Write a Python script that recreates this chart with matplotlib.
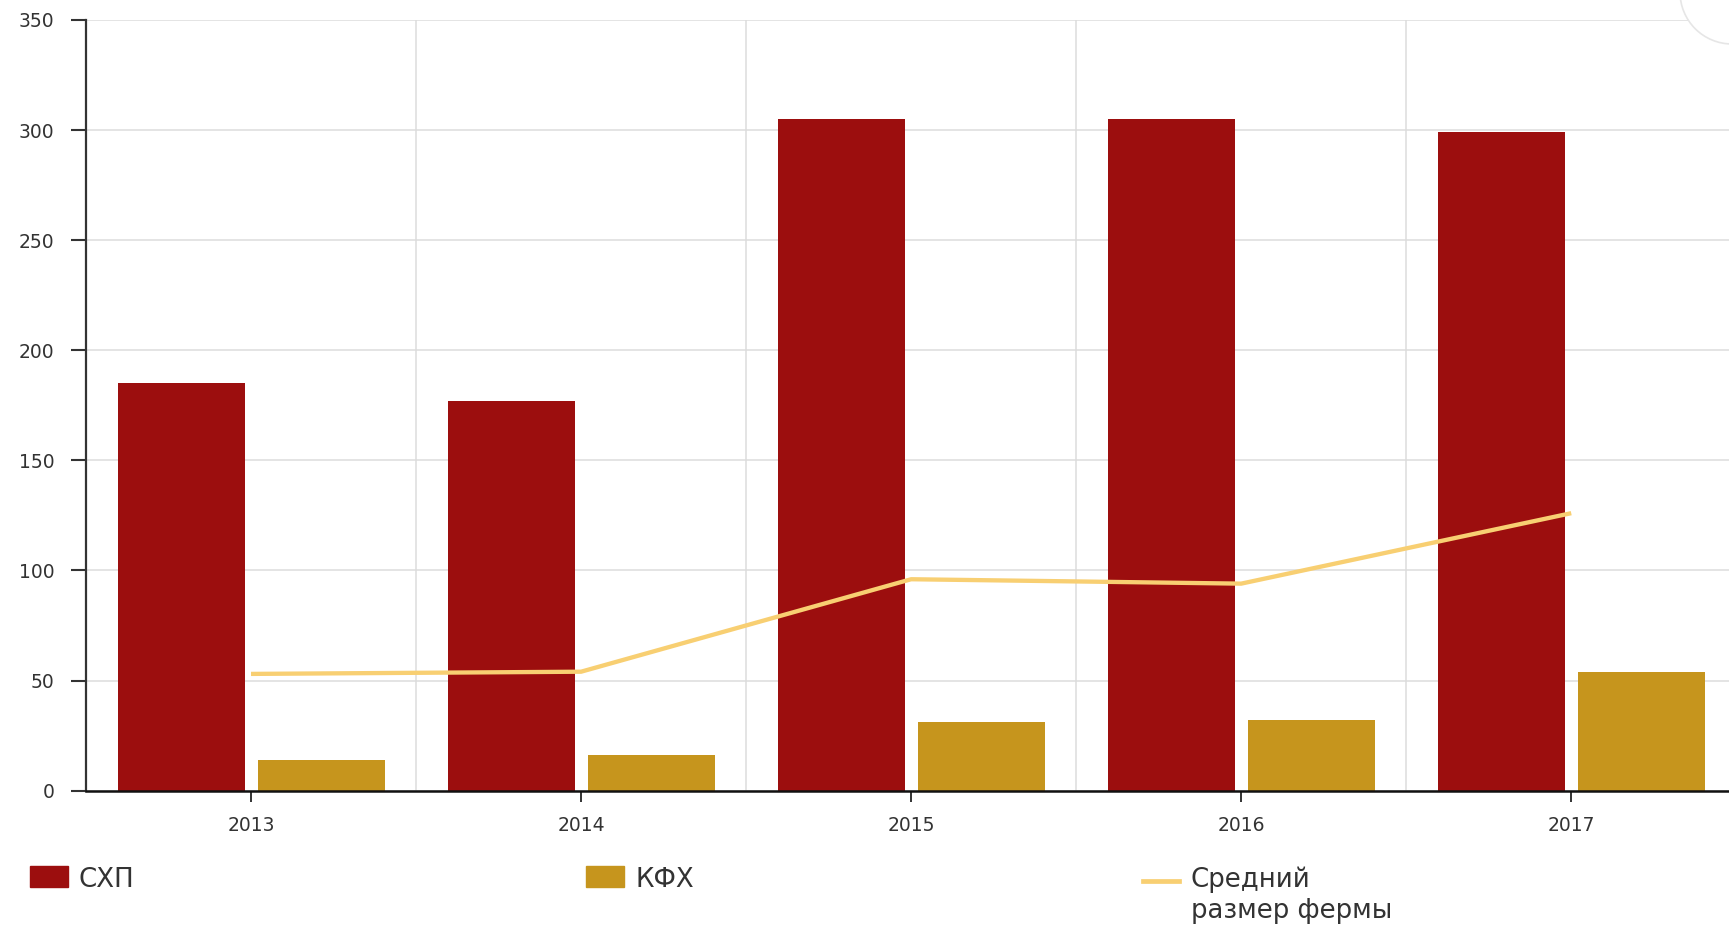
import matplotlib
matplotlib.use("Agg")
import matplotlib.pyplot as plt
import numpy as np
from matplotlib.lines import Line2D
from matplotlib.patches import Circle, Rectangle
from matplotlib.transforms import IdentityTransform

# values
years = ["2013", "2014", "2015", "2016", "2017"]
shp = [185, 177, 305, 305, 299]   # СХП
kfh = [14, 16, 31, 32, 54]        # КФХ
avg_farm = [53, 54, 96, 94, 126]  # Средний размер фермы

RED = "#9C0E0E"
GOLD = "#C6951D"
LINE = "#F8CF72"
TEXT = "#333333"
GRID = "#DCDCDC"

W, H = 1729, 927

plt.rcParams["font.family"] = ["DejaVu Sans"]


def fx(px):
    return px / W


def fy(py):
    return 1 - py / H


def main():
    fig = plt.figure(figsize=(W / 100, H / 100), dpi=100)
    ax = fig.add_axes([fx(86), fy(790.6), 1 - fx(86), (790.6 - 20) / H])

    x = np.arange(len(years))
    width = 0.385
    ax.bar(x - 0.212, shp, width=width, color=RED, zorder=2)
    ax.bar(x + 0.214, kfh, width=width, color=GOLD, zorder=2)
    ax.plot(x, avg_farm, color=LINE, linewidth=3.1, zorder=3, solid_capstyle="butt")

    ax.set_xlim(-0.5, 4.478)
    ax.set_ylim(0, 350)
    ax.set_yticks(np.arange(0, 351, 50))
    ax.set_xticks(x)
    ax.set_xticklabels(years)
    ax.set_xticks(x[:-1] + 0.5, minor=True)

    ax.grid(axis="y", which="major", color=GRID, linewidth=1.1, zorder=0)
    ax.grid(axis="x", which="minor", color=GRID, linewidth=1.1, zorder=0)
    ax.set_axisbelow(True)

    for side in ("top", "right"):
        ax.spines[side].set_visible(False)
    ax.spines["left"].set_color(TEXT)
    ax.spines["left"].set_linewidth(1.6)
    ax.spines["bottom"].set_color("#111111")
    ax.spines["bottom"].set_linewidth(1.8)
    ax.spines["bottom"].set_zorder(4)

    ax.tick_params(axis="y", which="major", length=10.8, width=1.5, color=TEXT,
                   pad=12, labelsize=13.5, labelcolor=TEXT)
    ax.tick_params(axis="x", which="major", length=8, width=1.4, color=TEXT,
                   pad=10, labelsize=13.5, labelcolor=TEXT)
    ax.tick_params(axis="x", which="minor", length=0)

    # legend drawn under the axes
    fs = 18.7
    fig.add_artist(Rectangle((fx(30), fy(887)), fx(38), 21 / H, color=RED, transform=fig.transFigure))
    fig.text(fx(79), fy(887), "СХП", fontsize=fs, color=TEXT, va="baseline", ha="left")
    fig.add_artist(Rectangle((fx(586), fy(887)), fx(38), 21 / H, color=GOLD, transform=fig.transFigure))
    fig.text(fx(635), fy(887), "КФХ", fontsize=fs, color=TEXT, va="baseline", ha="left")
    fig.add_artist(Line2D([fx(1143), fx(1179)], [fy(881), fy(881)], color=LINE, linewidth=3.4,
                          transform=fig.transFigure))
    fig.text(fx(1191), fy(887), "Средний", fontsize=fs, color=TEXT, va="baseline", ha="left")
    fig.text(fx(1191), fy(918), "размер фермы", fontsize=fs, color=TEXT, va="baseline", ha="left")

    # export button peeking in at the top right corner (pixel coords)
    fig.add_artist(Circle((1732, H + 8), 52, transform=IdentityTransform(),
                          facecolor="white", edgecolor="#E6E6E6", linewidth=1.2, zorder=5))

    fig.savefig("out.png", dpi=100)
    plt.close(fig)


if __name__ == "__main__":
    main()
